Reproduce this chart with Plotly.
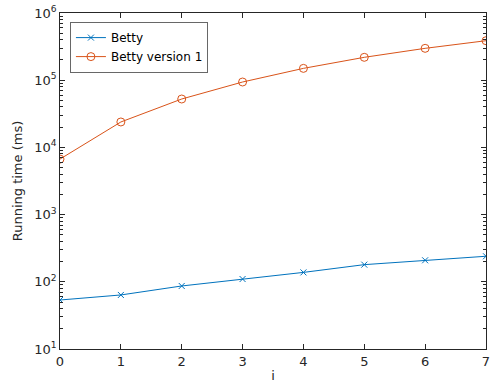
import plotly.graph_objects as go

i_vals = [0, 1, 2, 3, 4, 5, 6, 7]
betty = [53.6, 63.7, 86.7, 110, 138, 180, 209, 240]
betty_v1 = [6700, 23900, 52500, 94000, 150000, 219000, 298000, 387000]
ytick_vals = [10, 100, 1000, 10000, 100000, 1000000]
ytick_text = ["10<sup>1</sup>", "10<sup>2</sup>", "10<sup>3</sup>", "10<sup>4</sup>", "10<sup>5</sup>", "10<sup>6</sup>"]

blue = "#0072BD"
orange = "#D95319"
axc = "#262626"

fig = go.Figure()
fig.add_trace(go.Scatter(x=i_vals, y=betty, name="Betty", mode="lines+markers",
                         line=dict(color=blue, width=1),
                         marker=dict(symbol="x-thin-open", size=6, line=dict(color=blue, width=1))))
fig.add_trace(go.Scatter(x=i_vals, y=betty_v1, name="Betty version 1", mode="lines+markers",
                         line=dict(color=orange, width=1),
                         marker=dict(symbol="circle-open", size=8, line=dict(color=orange, width=1))))

fig.update_layout(
    width=491, height=384,
    margin=dict(l=60, r=5, t=13, b=35, autoexpand=False),
    paper_bgcolor="white", plot_bgcolor="white",
    font=dict(family="DejaVu Sans", size=13, color=axc),
    showlegend=True,
    legend=dict(x=0.024, y=0.972, xanchor="left", yanchor="top",
                bgcolor="white", bordercolor=axc, borderwidth=0.7,
                font=dict(size=12, color="black"), tracegroupgap=0,
                itemwidth=30),
    xaxis=dict(range=[0, 7], dtick=1, showline=True, linecolor=axc, linewidth=0.8,
               mirror="ticks", ticks="inside", ticklen=5, tickcolor=axc,
               showgrid=False, zeroline=False, automargin=False,
               ticklabeloverflow="allow",
               title=dict(text="i", standoff=3, font=dict(size=13, color=axc)),
               tickfont=dict(size=13, color=axc)),
    yaxis=dict(type="log", range=[1, 6], tickvals=ytick_vals, ticktext=ytick_text,
               showline=True, linecolor=axc, linewidth=0.8, mirror="ticks",
               ticks="inside", ticklen=5, tickcolor=axc, showgrid=False, zeroline=False,
               automargin=False, ticklabeloverflow="allow",
               minor=dict(ticks="inside", ticklen=3, tickcolor=axc, dtick="D1", showgrid=False),
               title=dict(text="Running time (ms)", standoff=8, font=dict(size=13, color=axc)),
               tickfont=dict(size=13, color=axc)),
)

fig.write_html("out.html", config={"displayModeBar": False},
               post_script="document.body.style.margin='0px';document.body.style.padding='0px';")
